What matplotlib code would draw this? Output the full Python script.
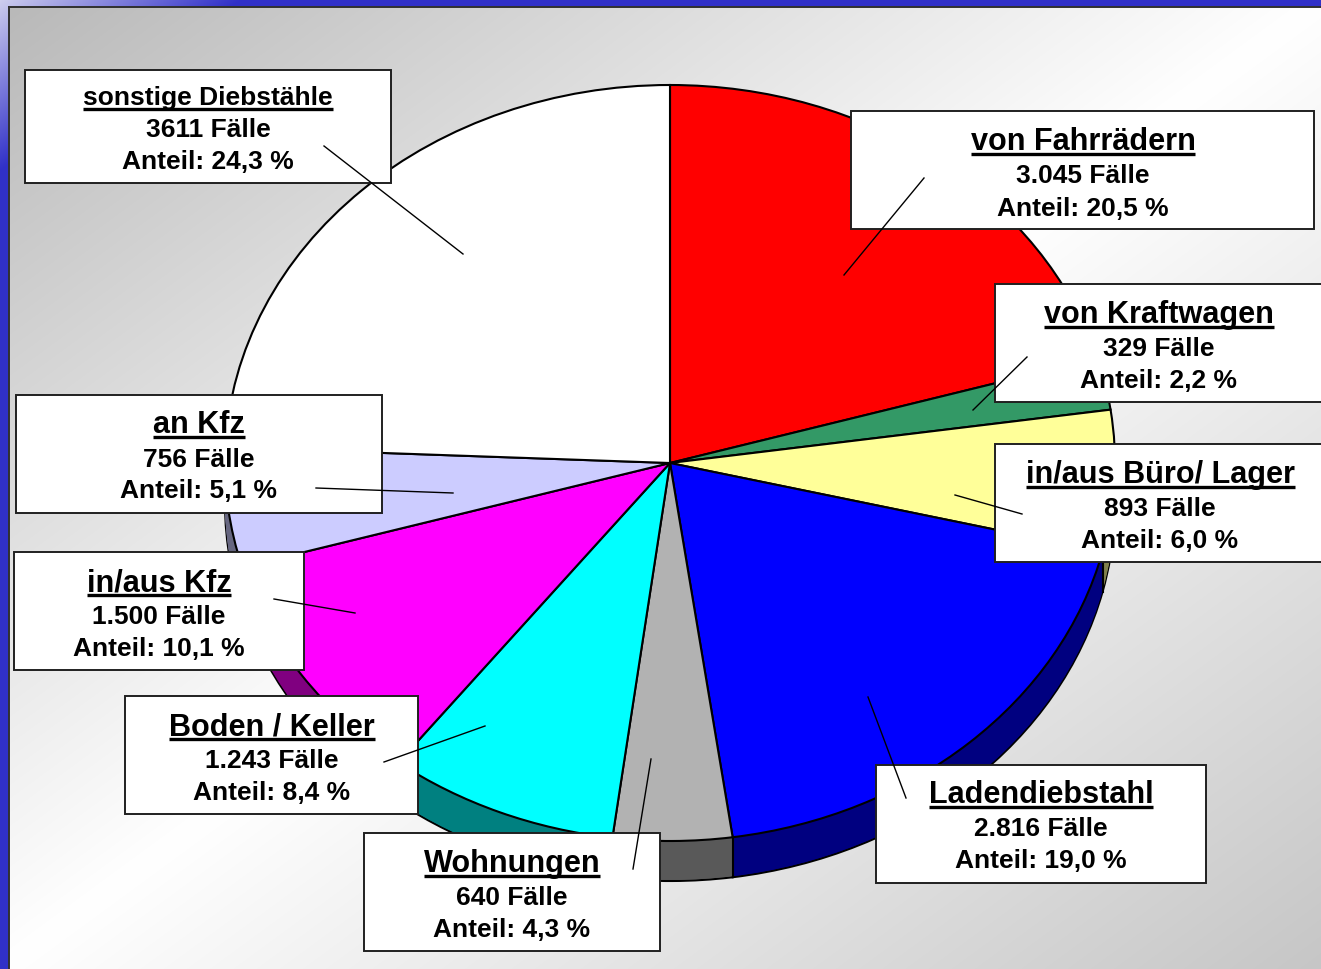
#! /usr/bin/python3
# -*- coding: utf-8 -*-

"""
Pie with fake depth and boxed labels, theft cases by kind
"""
import numpy as np
import matplotlib
matplotlib.use("Agg")
import matplotlib.pyplot as plt
from matplotlib.patches import Rectangle

WIDTH = 1321
HEIGHT = 969

categories = ["von Fahrrädern", "von Kraftwagen", "in/aus Büro/ Lager", "Ladendiebstahl", "Wohnungen",
              "Boden / Keller", "in/aus Kfz", "an Kfz", "sonstige Diebstähle"]
values = [3045, 329, 893, 2816, 640, 1243, 1500, 756, 3611]
case_labels = ["3.045 Fälle", "329 Fälle", "893 Fälle", "2.816 Fälle", "640 Fälle",
               "1.243 Fälle", "1.500 Fälle", "756 Fälle", "3611 Fälle"]
share_labels = ["Anteil: 20,5 %", "Anteil: 2,2 %", "Anteil: 6,0 %", "Anteil: 19,0 %", "Anteil: 4,3 %",
                "Anteil: 8,4 %", "Anteil: 10,1 %", "Anteil: 5,1 %", "Anteil: 24,3 %"]

face_colors = ["#FF0000", "#339966", "#FFFF99", "#0000FF", "#B2B2B2", "#00FFFF", "#FF00FF", "#CCCCFF", "#FFFFFF"]
side_colors = ["#800000", "#1A4D33", "#80804D", "#000080", "#595959", "#008080", "#800080", "#666680", "#808080"]

# label boxes in pixels: left, top, right, bottom
boxes = [(851, 111, 1314, 229), (995, 284, 1330, 402), (995, 444, 1330, 562), (876, 765, 1206, 883),
         (364, 833, 660, 951), (125, 696, 418, 814), (14, 552, 304, 670), (16, 395, 382, 513), (25, 70, 391, 183)]
text_x = [1083, 1159, 1160, 1041, 512, 272, 159, 199, 208]
text_y = [(150, 183, 216), (323, 356, 388), (483, 516, 548), (803, 836, 868), (872, 905, 937),
          (735, 768, 800), (591, 624, 656), (433, 467, 498), (105, 137, 169)]
title_sizes = [22.1, 22.1, 22.1, 22.1, 22.1, 22.1, 22.1, 22.1, 19]
leaders = [((924, 178), (844, 275)), ((1027, 357), (973, 410)), ((955, 495), (1022, 514)),
           ((868, 697), (906, 798)), ((651, 759), (633, 869)), ((485, 726), (384, 762)),
           ((355, 613), (274, 599)), ((453, 493), (316, 488)), ((324, 146), (463, 254))]

CENTER_X = 670
CENTER_Y = 463
RADIUS_X = 445
RADIUS_Y = 378
DEPTH = 40


def draw_background(ax):
    """
    Gray diagonal gradient on a blue frame with a pale top left corner
    """
    yy, xx = np.mgrid[0:HEIGHT, 0:WIDTH]
    t = (xx / WIDTH + yy / HEIGHT) / 2
    low = np.where(t < 0.5, 184.0, 198.0)
    gray = 255 - (255 - low) * np.abs(1 - 2 * t)
    image = np.dstack([gray, gray, gray])

    blue = np.array([48, 48, 200], dtype=float)
    pale = np.array([205, 205, 238], dtype=float)
    fade = np.clip(xx / 240 + yy / 170, 0, 1)[..., None]
    frame = pale + (blue - pale) * fade
    outside = (xx < 9) | (yy < 7)
    image[outside] = frame[outside]

    ax.imshow(image.astype(np.uint8), extent=(0, WIDTH, HEIGHT, 0), aspect="auto", interpolation="nearest")
    ax.plot([9, 9], [7, HEIGHT], color="#303030", lw=1.4)
    ax.plot([9, WIDTH], [7, 7], color="#303030", lw=1.4)


def draw_pie(ax):
    """
    Stack of dark pies for the side wall, face pie on top
    """
    drop = DEPTH / RADIUS_Y
    for step in range(DEPTH, 0, -1):
        edge = "black" if step == DEPTH else "none"
        ax.pie(values, colors=side_colors, startangle=90, counterclock=False, center=(0, -step / RADIUS_Y),
               wedgeprops={"edgecolor": edge, "linewidth": 1.5})
    wedges, _ = ax.pie(values, colors=face_colors, startangle=90, counterclock=False,
                       wedgeprops={"edgecolor": "black", "linewidth": 1.5})
    for wedge in wedges:
        angle = np.deg2rad(wedge.theta1)
        if np.sin(angle) < 0:
            ax.plot([np.cos(angle)] * 2, [np.sin(angle), np.sin(angle) - drop], color="black", lw=1.5)
    ax.set_aspect("auto")
    ax.set_xlim(-1, 1)
    ax.set_ylim(-1, 1)


def draw_labels(ax, fig):
    """
    White boxes with three lines of text, underlined title, leader lines
    """
    renderer = fig.canvas.get_renderer()
    for i, name in enumerate(categories):
        left, top, right, bottom = boxes[i]
        ax.add_patch(Rectangle((left, top), right - left, bottom - top, facecolor="white",
                               edgecolor="#202020", linewidth=1.4))
        x = text_x[i]
        base = text_y[i]
        title = ax.text(x, base[0], name, fontsize=title_sizes[i], ha="center", va="baseline")
        ax.text(x, base[1], case_labels[i], fontsize=19, ha="center", va="baseline")
        ax.text(x, base[2], share_labels[i], fontsize=19, ha="center", va="baseline")
        extent = title.get_window_extent(renderer)
        ax.plot([extent.x0, extent.x1], [base[0] + 4] * 2, color="black", lw=2.4, solid_capstyle="butt")
        start, end = leaders[i]
        ax.plot([start[0], end[0]], [start[1], end[1]], color="black", lw=1.0)


def main():
    plt.rcParams["font.family"] = ["Liberation Sans", "DejaVu Sans"]
    plt.rcParams["font.weight"] = "bold"

    fig = plt.figure(figsize=(WIDTH / 100, HEIGHT / 100), dpi=100)

    back_ax = fig.add_axes([0, 0, 1, 1])
    back_ax.set_axis_off()
    draw_background(back_ax)
    back_ax.set_xlim(0, WIDTH)
    back_ax.set_ylim(HEIGHT, 0)

    pie_ax = fig.add_axes([(CENTER_X - RADIUS_X) / WIDTH, 1 - (CENTER_Y + RADIUS_Y) / HEIGHT,
                           2 * RADIUS_X / WIDTH, 2 * RADIUS_Y / HEIGHT])
    pie_ax.set_axis_off()
    draw_pie(pie_ax)
    for artist in pie_ax.get_children():
        artist.set_clip_on(False)

    top_ax = fig.add_axes([0, 0, 1, 1])
    top_ax.set_axis_off()
    top_ax.set_xlim(0, WIDTH)
    top_ax.set_ylim(HEIGHT, 0)
    draw_labels(top_ax, fig)
    top_ax.set_xlim(0, WIDTH)
    top_ax.set_ylim(HEIGHT, 0)

    fig.savefig("out.png", dpi=100)


if __name__ == "__main__":
    main()
